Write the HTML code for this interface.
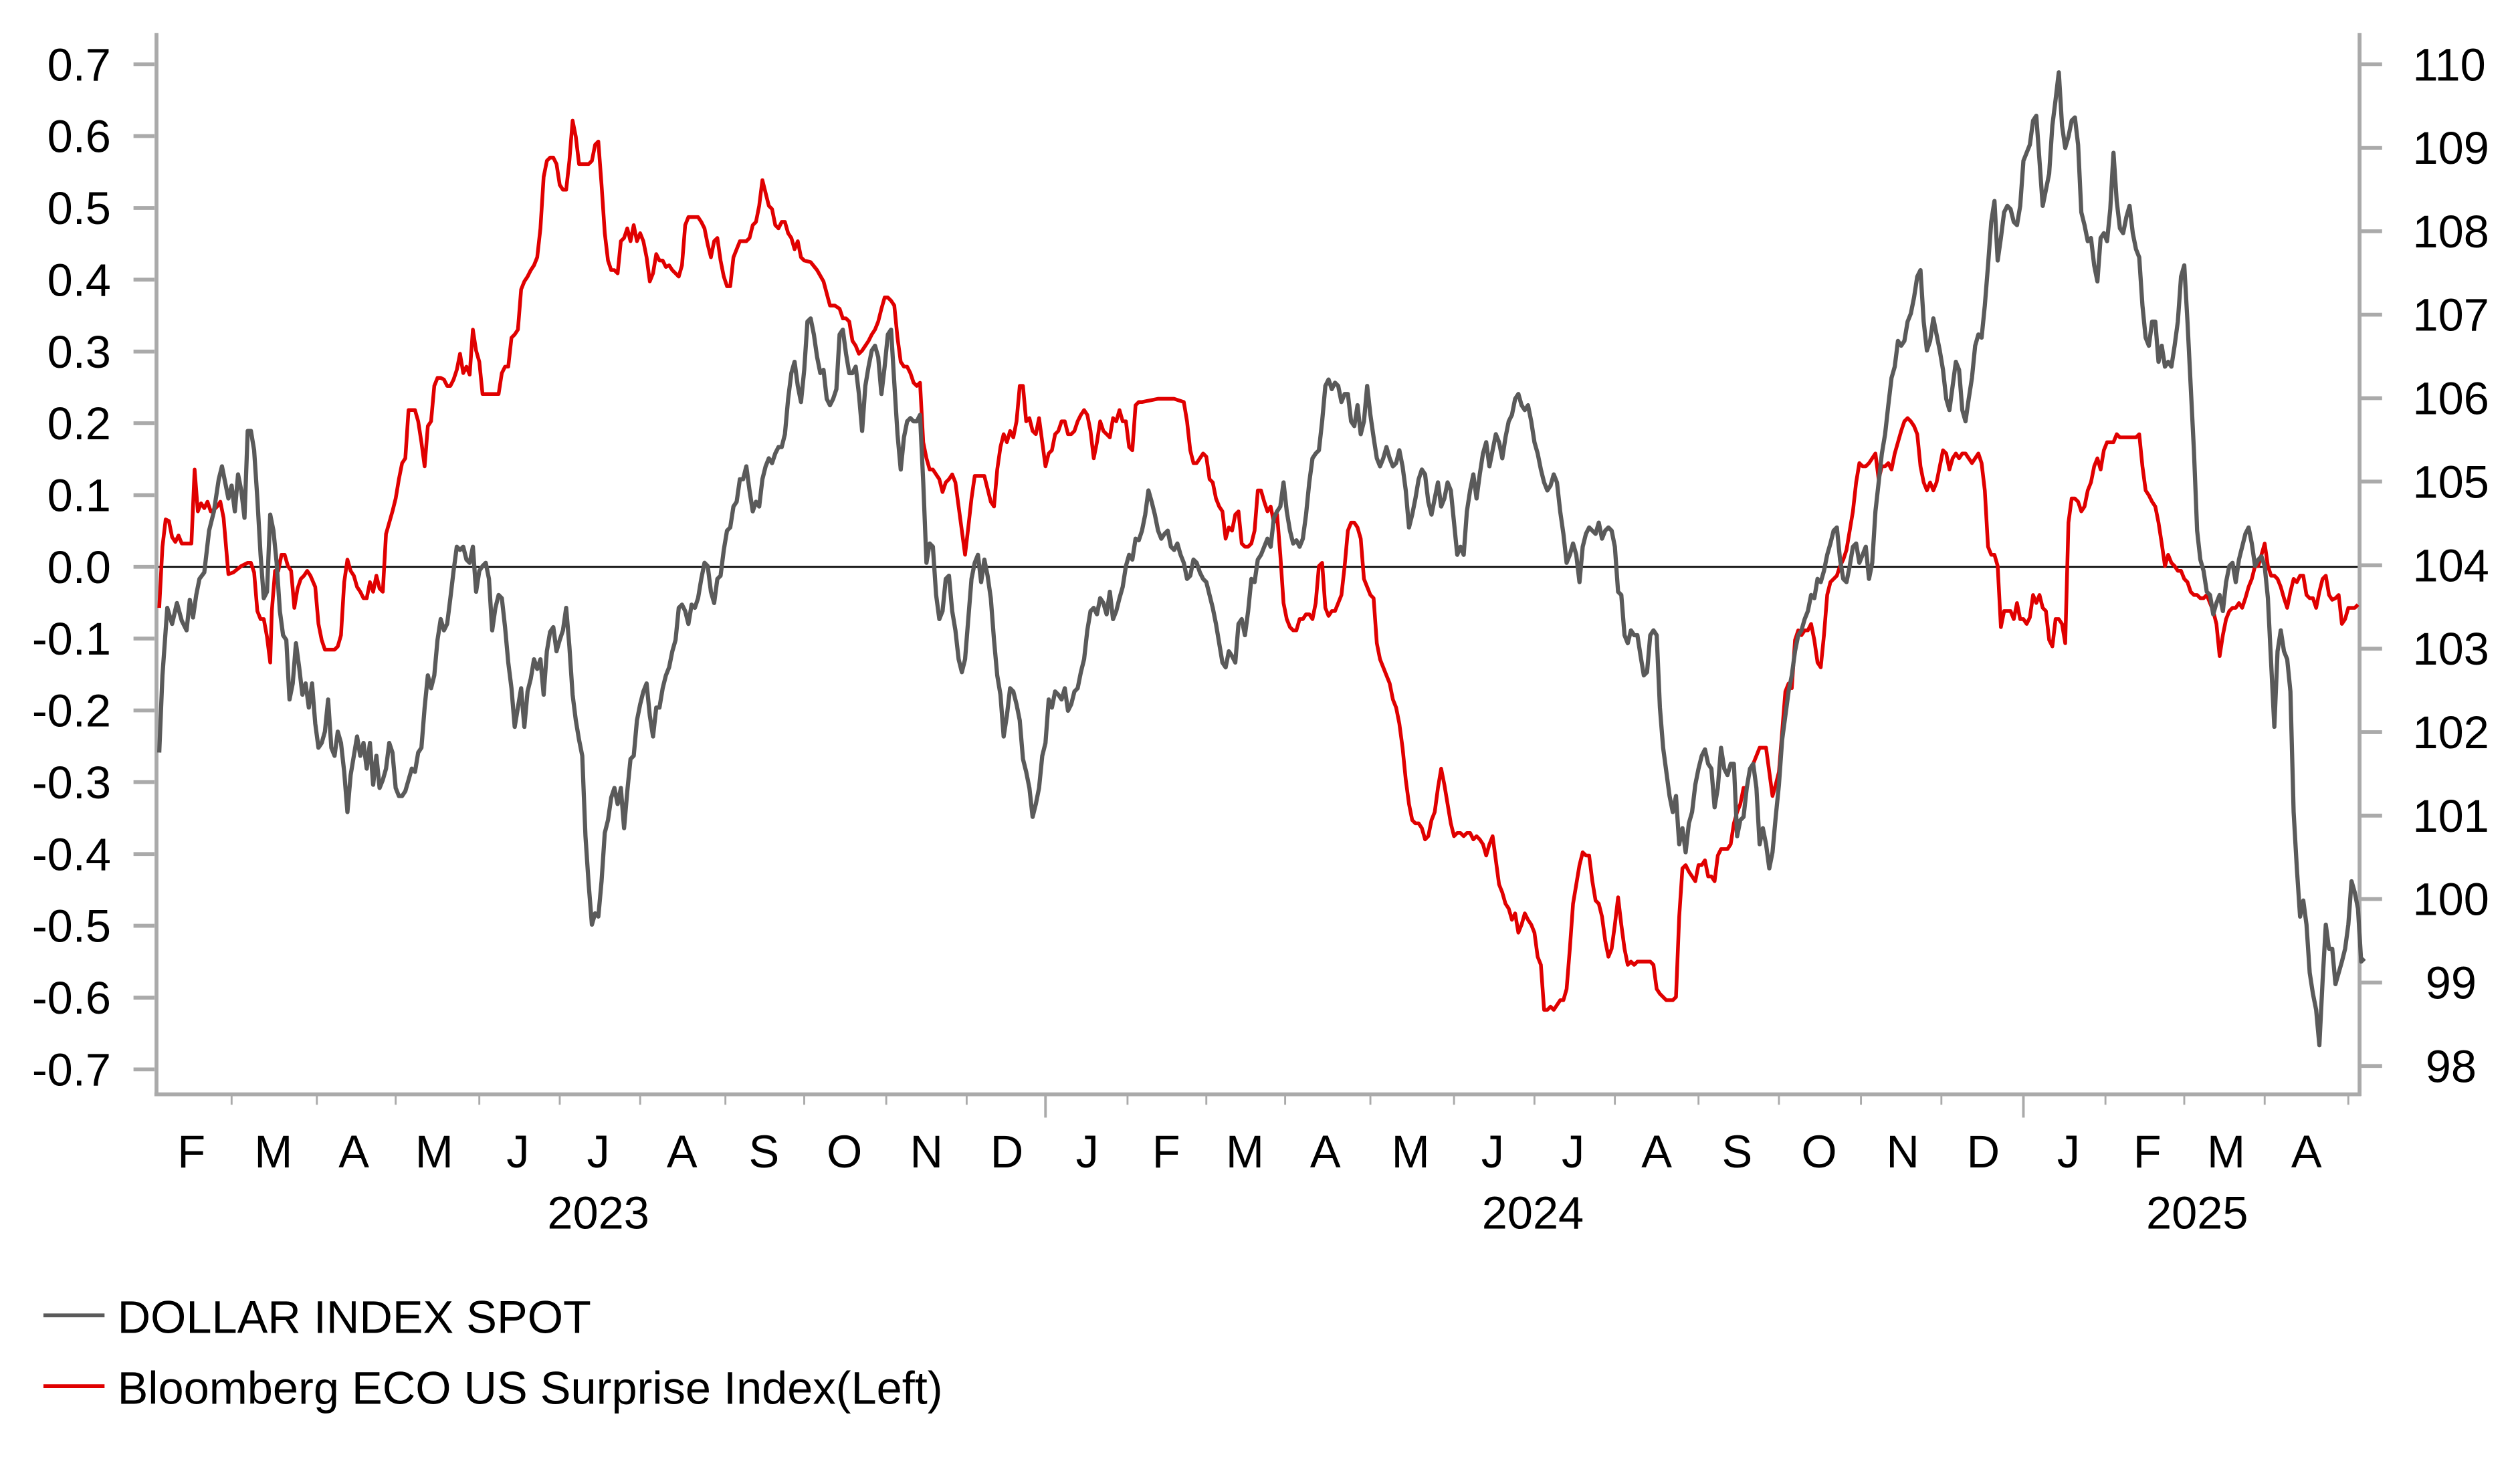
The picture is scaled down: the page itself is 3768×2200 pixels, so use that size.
<!DOCTYPE html>
<html><head><meta charset="utf-8"><style>html,body{margin:0;padding:0;background:#fff}svg{display:block}</style></head>
<body>
<svg width="3768" height="2200" viewBox="0 0 3768 2200" xmlns="http://www.w3.org/2000/svg">
<rect width="3768" height="2200" fill="#fff"/>
<g transform="scale(2.405)" font-family="Liberation Sans, Arial, sans-serif" fill="#000">
<line x1="97.3" y1="352.5" x2="1467" y2="352.5" stroke="#000" stroke-width="1.1"/>
<g stroke="#aaa" stroke-width="2.4" fill="none">
<line x1="97.3" y1="20.5" x2="97.3" y2="681.5"/>
<line x1="1467" y1="20.5" x2="1467" y2="681.5"/>
<line x1="96" y1="680.5" x2="1468" y2="680.5"/>
</g>
<g stroke="#aaa" stroke-width="2.4">
<line x1="83" y1="40" x2="96" y2="40"/><line x1="83" y1="84.6" x2="96" y2="84.6"/><line x1="83" y1="129.3" x2="96" y2="129.3"/><line x1="83" y1="173.9" x2="96" y2="173.9"/><line x1="83" y1="218.6" x2="96" y2="218.6"/><line x1="83" y1="263.2" x2="96" y2="263.2"/><line x1="83" y1="307.9" x2="96" y2="307.9"/><line x1="83" y1="352.5" x2="96" y2="352.5"/><line x1="83" y1="397.1" x2="96" y2="397.1"/><line x1="83" y1="441.8" x2="96" y2="441.8"/><line x1="83" y1="486.4" x2="96" y2="486.4"/><line x1="83" y1="531.1" x2="96" y2="531.1"/><line x1="83" y1="575.7" x2="96" y2="575.7"/><line x1="83" y1="620.4" x2="96" y2="620.4"/><line x1="83" y1="665" x2="96" y2="665"/>
<line x1="1468" y1="40" x2="1481" y2="40"/><line x1="1468" y1="91.9" x2="1481" y2="91.9"/><line x1="1468" y1="143.8" x2="1481" y2="143.8"/><line x1="1468" y1="195.7" x2="1481" y2="195.7"/><line x1="1468" y1="247.6" x2="1481" y2="247.6"/><line x1="1468" y1="299.5" x2="1481" y2="299.5"/><line x1="1468" y1="351.5" x2="1481" y2="351.5"/><line x1="1468" y1="403.4" x2="1481" y2="403.4"/><line x1="1468" y1="455.3" x2="1481" y2="455.3"/><line x1="1468" y1="507.2" x2="1481" y2="507.2"/><line x1="1468" y1="559.1" x2="1481" y2="559.1"/><line x1="1468" y1="611" x2="1481" y2="611"/><line x1="1468" y1="662.9" x2="1481" y2="662.9"/>
</g>
<g stroke="#aaa" stroke-width="1.2">
<line x1="144" y1="681" x2="144" y2="687"/><line x1="197" y1="681" x2="197" y2="687"/><line x1="246" y1="681" x2="246" y2="687"/><line x1="298" y1="681" x2="298" y2="687"/><line x1="348" y1="681" x2="348" y2="687"/><line x1="398" y1="681" x2="398" y2="687"/><line x1="451" y1="681" x2="451" y2="687"/><line x1="500" y1="681" x2="500" y2="687"/><line x1="551" y1="681" x2="551" y2="687"/><line x1="601" y1="681" x2="601" y2="687"/><line x1="650" y1="681" x2="650" y2="695" stroke-width="1.6"/><line x1="701" y1="681" x2="701" y2="687"/><line x1="750" y1="681" x2="750" y2="687"/><line x1="799" y1="681" x2="799" y2="687"/><line x1="852" y1="681" x2="852" y2="687"/><line x1="904" y1="681" x2="904" y2="687"/><line x1="954" y1="681" x2="954" y2="687"/><line x1="1004" y1="681" x2="1004" y2="687"/><line x1="1056" y1="681" x2="1056" y2="687"/><line x1="1106" y1="681" x2="1106" y2="687"/><line x1="1157" y1="681" x2="1157" y2="687"/><line x1="1207" y1="681" x2="1207" y2="687"/><line x1="1258" y1="681" x2="1258" y2="695" stroke-width="1.6"/><line x1="1309" y1="681" x2="1309" y2="687"/><line x1="1358" y1="681" x2="1358" y2="687"/><line x1="1408" y1="681" x2="1408" y2="687"/><line x1="1460" y1="681" x2="1460" y2="687"/>
</g>
<g font-size="28.5" text-anchor="end">
<text x="69" y="50">0.7</text><text x="69" y="94.6">0.6</text><text x="69" y="139.3">0.5</text><text x="69" y="183.9">0.4</text><text x="69" y="228.6">0.3</text><text x="69" y="273.2">0.2</text><text x="69" y="317.9">0.1</text><text x="69" y="362.5">0.0</text><text x="69" y="407.1">-0.1</text><text x="69" y="451.8">-0.2</text><text x="69" y="496.4">-0.3</text><text x="69" y="541.1">-0.4</text><text x="69" y="585.7">-0.5</text><text x="69" y="630.4">-0.6</text><text x="69" y="675">-0.7</text>
</g>
<g font-size="28.5">
<text x="1500" y="50">110</text><text x="1500" y="101.9">109</text><text x="1500" y="153.8">108</text><text x="1500" y="205.7">107</text><text x="1500" y="257.6">106</text><text x="1500" y="309.5">105</text><text x="1500" y="361.5">104</text><text x="1500" y="413.4">103</text><text x="1500" y="465.3">102</text><text x="1500" y="517.2">101</text><text x="1500" y="569.1">100</text><text x="1508" y="621">99</text><text x="1508" y="672.9">98</text>
</g>
<g font-size="28.5" text-anchor="middle">
<text x="119" y="726">F</text><text x="170" y="726">M</text><text x="220" y="726">A</text><text x="270" y="726">M</text><text x="322" y="726">J</text><text x="372" y="726">J</text><text x="424" y="726">A</text><text x="475" y="726">S</text><text x="525" y="726">O</text><text x="576" y="726">N</text><text x="626" y="726">D</text><text x="676" y="726">J</text><text x="725" y="726">F</text><text x="774" y="726">M</text><text x="824" y="726">A</text><text x="877" y="726">M</text><text x="928" y="726">J</text><text x="978" y="726">J</text><text x="1030" y="726">A</text><text x="1080" y="726">S</text><text x="1131" y="726">O</text><text x="1183" y="726">N</text><text x="1233" y="726">D</text><text x="1286" y="726">J</text><text x="1335" y="726">F</text><text x="1384" y="726">M</text><text x="1434" y="726">A</text>
<text x="372" y="764">2023</text><text x="953" y="764">2024</text><text x="1366" y="764">2025</text>
</g>
<line x1="27" y1="818" x2="65" y2="818" stroke="#5a5a5a" stroke-width="2.4"/>
<line x1="27" y1="862" x2="65" y2="862" stroke="#e00000" stroke-width="2.4"/>
<g font-size="28.5"><text x="73" y="829">DOLLAR INDEX SPOT</text><text x="73" y="873">Bloomberg ECO US Surprise Index(Left)</text></g>
<polyline fill="none" stroke="#e00000" stroke-width="2.3" stroke-linejoin="round" points="99,378 101,340 103,323 105,324 107,334 109,337 111,333 113,338 117,338 119,338 121,292 123,318 125,313 127,316 129,312 131,318 133,317 135,315 137,312 139,322 142,357 145,356 150,352 154,350 156,350 158,356 160,380 162,385 164,385 166,396 168,412 169,380 171,355 173,355 175,345 177,345 179,352 181,355 183,378 185,366 187,360 189,358 191,355 193,358 196,365 198,388 200,398 202,404 208,404 210,402 212,395 214,362 216,348 218,355 220,358 222,365 224,368 226,372 228,372 230,362 232,368 234,358 236,366 238,368 240,332 242,325 244,318 246,310 248,298 250,288 252,285 254,255 256,255 258,255 260,262 262,275 264,290 266,265 268,262 270,240 272,235 274,235 276,236 278,240 280,240 282,236 284,230 286,220 288,232 290,228 292,233 294,205 296,218 298,225 300,245 302,245 304,245 306,245 308,245 310,245 312,232 314,228 316,228 318,210 320,208 322,205 324,180 326,175 328,172 330,168 332,165 334,160 336,142 338,110 340,100 342,98 344,98 346,102 348,115 350,118 352,118 354,100 356,75 358,85 360,102 362,102 364,102 366,102 368,100 370,90 372,88 374,115 376,145 378,162 380,168 382,168 384,170 386,150 388,148 390,142 392,150 394,140 396,150 398,145 400,150 402,160 404,175 406,170 408,158 410,162 412,162 414,166 416,165 418,168 420,170 422,172 424,165 426,140 428,135 430,135 432,135 434,135 436,138 438,142 440,152 442,160 444,150 446,148 448,162 450,172 452,178 454,178 456,160 458,155 460,150 462,150 464,150 466,148 468,140 470,138 472,128 474,112 476,120 478,128 480,130 482,140 484,142 486,138 488,138 490,145 492,148 494,155 496,150 498,160 500,162 504,163 508,168 512,175 516,190 519,190 522,192 524,198 526,198 528,200 530,212 532,215 534,220 536,218 538,215 540,212 542,208 544,205 546,200 548,192 550,185 552,185 554,187 556,190 558,210 560,225 562,228 564,228 566,232 568,238 570,240 572,238 574,275 576,285 578,292 580,292 582,295 584,298 586,306 588,300 590,298 592,295 594,300 596,315 598,330 600,345 602,328 604,310 606,296 608,296 610,296 612,296 614,304 616,312 618,315 620,292 622,278 624,270 626,275 628,268 630,272 632,262 634,240 636,240 638,262 640,260 642,268 644,270 646,260 648,275 650,290 652,282 654,280 656,270 658,268 660,262 662,262 664,270 666,270 668,268 670,262 672,258 674,255 676,258 678,268 680,285 682,275 684,262 686,268 688,270 690,272 692,260 694,262 696,255 698,262 700,262 702,278 704,280 706,252 708,250 710,250 720,248 730,248 736,250 738,262 740,280 742,288 744,288 746,285 748,282 750,284 752,298 754,300 756,310 758,315 760,318 762,335 764,328 766,330 768,320 770,318 772,338 774,340 776,340 778,338 780,330 782,305 784,305 786,312 788,318 790,315 792,325 794,320 796,345 798,375 800,385 802,390 804,392 806,392 808,385 810,385 812,382 814,382 816,385 818,375 820,352 822,350 824,378 826,383 828,380 830,380 832,375 834,370 836,352 838,330 840,325 842,325 844,328 846,335 848,360 850,365 852,370 854,372 856,400 858,410 860,415 862,420 864,425 866,435 868,440 870,450 872,465 874,485 876,500 878,510 880,512 882,512 884,515 886,522 888,520 890,510 892,505 894,490 896,478 898,488 900,500 902,512 904,520 906,518 908,518 910,520 912,518 914,518 916,522 918,520 920,522 922,525 924,532 926,525 928,520 930,535 932,550 934,555 936,562 938,565 940,572 942,568 944,580 946,575 948,568 950,572 952,575 954,580 956,595 958,600 960,628 962,628 964,626 966,628 968,625 970,622 972,622 974,615 976,590 978,562 980,550 982,538 984,530 986,532 988,532 990,548 992,560 994,562 996,570 998,585 1000,595 1002,590 1004,575 1006,558 1008,575 1010,590 1012,600 1014,598 1016,600 1018,598 1022,598 1026,598 1028,600 1030,615 1032,618 1036,622 1040,622 1042,620 1044,570 1046,540 1048,538 1050,542 1052,545 1054,548 1056,538 1058,538 1060,535 1062,545 1064,545 1066,548 1068,532 1070,528 1072,528 1074,528 1076,525 1078,512 1080,505 1082,500 1084,490 1086,490 1088,478 1090,475 1092,470 1094,465 1096,465 1098,465 1100,480 1102,495 1104,488 1106,480 1108,455 1110,430 1112,425 1114,428 1116,398 1118,392 1120,395 1122,392 1124,392 1126,388 1128,398 1130,412 1132,415 1134,395 1136,370 1138,362 1140,360 1142,358 1144,352 1146,348 1148,342 1150,330 1152,318 1154,300 1156,288 1158,290 1160,290 1162,288 1164,285 1166,282 1168,298 1170,290 1172,290 1174,288 1176,292 1178,282 1180,275 1182,268 1184,262 1186,260 1188,262 1190,265 1192,270 1194,290 1196,300 1198,305 1200,300 1202,305 1204,300 1206,290 1208,280 1210,282 1212,292 1214,285 1216,282 1218,285 1220,282 1222,282 1224,285 1226,288 1228,285 1230,282 1232,288 1234,305 1236,340 1238,345 1240,345 1242,352 1244,390 1246,380 1248,380 1250,380 1252,385 1254,375 1256,385 1258,385 1260,388 1262,384 1264,370 1266,375 1268,370 1270,378 1272,380 1274,398 1276,402 1278,385 1280,385 1282,388 1284,400 1286,325 1288,310 1290,310 1292,312 1294,318 1296,315 1298,305 1300,300 1302,290 1304,285 1306,292 1308,280 1310,275 1312,275 1314,275 1316,270 1318,272 1322,272 1328,272 1330,270 1332,290 1334,305 1336,308 1338,312 1340,315 1342,325 1344,338 1346,352 1348,345 1350,350 1352,352 1354,355 1356,355 1358,360 1360,362 1362,368 1364,370 1366,370 1368,372 1370,372 1372,370 1374,375 1376,380 1378,388 1380,408 1382,395 1384,385 1386,380 1388,378 1390,378 1392,375 1394,378 1396,372 1398,365 1400,360 1402,352 1404,352 1406,345 1408,338 1410,352 1412,358 1414,358 1416,360 1418,365 1420,372 1422,378 1424,368 1426,360 1428,362 1430,358 1432,358 1434,370 1436,372 1438,372 1440,378 1442,368 1444,360 1446,358 1448,370 1450,373 1452,372 1454,370 1456,388 1458,385 1460,378 1462,378 1464,378 1466,376"/>
<polyline fill="none" stroke="#5a5a5a" stroke-width="2.6" stroke-linejoin="round" points="99,468 101,420 104,378 107,388 110,375 113,386 116,392 118,373 120,384 122,370 124,360 127,356 130,330 133,318 136,298 138,290 140,300 142,310 144,302 146,318 148,295 150,305 152,322 154,268 156,268 158,280 160,310 162,345 164,372 166,368 168,320 170,330 172,350 174,380 176,395 178,398 180,435 182,425 184,400 186,415 188,432 190,425 192,440 194,425 196,450 198,465 200,462 202,455 204,435 206,465 208,470 210,455 212,462 214,480 216,505 218,482 220,470 222,458 224,470 226,462 228,478 230,462 232,488 234,470 236,490 238,485 240,478 242,462 244,468 246,490 248,495 250,495 252,492 254,485 256,478 258,480 260,468 262,465 264,440 266,420 268,428 270,420 272,398 274,385 276,392 278,388 280,372 282,355 284,340 286,342 288,340 290,348 292,350 294,340 296,368 298,355 300,352 302,350 304,360 306,392 308,378 310,370 312,372 314,390 316,412 318,428 320,452 322,440 324,428 326,452 328,430 330,422 332,410 334,416 336,410 338,432 340,405 342,393 344,390 346,405 348,398 350,392 352,378 354,402 356,432 358,448 360,460 362,470 364,520 366,550 368,575 370,568 372,570 374,548 376,518 378,510 380,496 382,490 384,500 386,490 388,515 390,492 392,472 394,470 396,448 398,438 400,430 402,425 404,445 406,458 408,440 410,440 412,428 414,420 416,415 418,405 420,398 422,378 424,376 426,380 428,388 430,376 432,378 434,372 436,360 438,350 440,352 442,368 444,375 446,360 448,358 450,342 452,330 454,328 456,315 458,312 460,298 462,298 464,290 466,305 468,318 470,312 472,315 474,298 476,290 478,285 480,288 482,282 484,278 486,278 488,270 490,248 492,232 494,225 496,240 498,250 500,230 502,200 504,198 506,208 508,222 510,232 512,230 514,248 516,252 518,248 520,242 522,208 524,205 526,220 528,232 530,232 532,228 534,245 536,268 538,240 540,228 542,218 544,215 546,222 548,245 550,228 552,208 554,205 556,238 558,270 560,292 562,272 564,262 566,260 568,262 570,262 572,258 574,300 576,350 578,338 580,340 582,370 584,385 586,380 588,360 590,358 592,380 594,392 596,410 598,418 600,410 602,385 604,360 606,350 608,345 610,362 612,348 614,358 616,372 618,398 620,420 622,432 624,458 626,445 628,428 630,430 632,438 634,448 636,472 638,480 640,490 642,508 644,500 646,490 648,470 650,462 652,435 654,440 656,430 658,432 660,435 662,428 664,442 666,438 668,430 670,428 672,418 674,410 676,392 678,380 680,378 682,382 684,372 686,375 688,382 690,368 692,385 694,380 696,372 698,365 700,352 702,345 704,348 706,335 708,336 710,330 712,320 714,305 716,312 718,320 720,330 722,335 724,332 726,330 728,340 730,342 732,338 734,345 736,350 738,360 740,358 742,348 744,350 746,356 748,360 750,362 752,370 754,378 756,388 758,400 760,412 762,415 764,405 766,408 768,412 770,388 772,385 774,395 776,380 778,360 780,362 782,348 784,345 786,340 788,335 790,340 792,322 794,318 796,315 798,300 800,318 802,330 804,338 806,336 808,340 810,335 812,320 814,300 816,285 818,282 820,280 822,262 824,240 826,236 828,242 830,238 832,240 834,250 836,245 838,245 840,262 842,265 844,252 846,270 848,262 850,240 852,258 854,272 856,285 858,290 860,285 862,278 864,285 866,290 868,288 870,280 872,290 874,305 876,328 878,320 880,310 882,298 884,292 886,295 888,312 890,320 892,310 894,300 896,315 898,310 900,300 902,305 904,325 906,345 908,340 910,345 912,318 914,305 916,295 918,310 920,295 922,282 924,275 926,290 928,280 930,270 932,275 934,285 936,272 938,262 940,258 942,248 944,245 946,252 948,255 950,252 952,262 954,275 956,282 958,292 960,300 962,305 964,302 966,295 968,300 970,318 972,332 974,350 976,345 978,338 980,345 982,362 984,340 986,332 988,328 990,330 992,332 994,325 996,335 998,330 1000,328 1002,330 1004,340 1006,368 1008,370 1010,395 1012,400 1014,392 1016,395 1018,395 1020,408 1022,420 1024,418 1026,395 1028,392 1030,395 1032,440 1034,465 1036,480 1038,495 1040,505 1042,495 1044,525 1046,515 1048,530 1050,512 1052,505 1054,488 1056,478 1058,470 1060,466 1062,475 1064,478 1066,502 1068,490 1070,465 1072,478 1074,482 1076,475 1078,475 1080,520 1082,510 1084,508 1086,490 1088,478 1090,475 1092,490 1094,525 1096,515 1098,525 1100,540 1102,530 1104,508 1106,488 1108,460 1110,445 1112,430 1114,420 1116,405 1118,395 1120,392 1122,385 1124,380 1126,370 1128,372 1130,360 1132,362 1134,355 1136,345 1138,338 1140,330 1142,328 1144,348 1146,360 1148,362 1150,352 1152,340 1154,338 1156,350 1158,345 1160,340 1162,360 1164,350 1166,318 1168,300 1170,282 1172,270 1174,252 1176,235 1178,228 1180,212 1182,215 1184,212 1186,200 1188,195 1190,185 1192,172 1194,168 1196,200 1198,218 1200,212 1202,198 1204,208 1206,218 1208,230 1210,248 1212,255 1214,240 1216,225 1218,230 1220,255 1222,262 1224,248 1226,235 1228,215 1230,208 1232,210 1234,190 1236,165 1238,138 1240,125 1242,162 1244,148 1246,132 1248,128 1250,130 1252,138 1254,140 1256,128 1258,100 1260,95 1262,90 1264,75 1266,72 1268,100 1270,128 1272,118 1274,108 1276,78 1278,62 1280,45 1282,78 1284,92 1286,85 1288,75 1290,73 1292,90 1294,132 1296,140 1298,150 1300,148 1302,165 1304,175 1306,148 1308,145 1310,150 1312,130 1314,95 1316,125 1318,142 1320,145 1322,135 1324,128 1326,145 1328,155 1330,160 1332,190 1334,210 1336,215 1338,200 1340,200 1342,225 1344,215 1346,228 1348,225 1350,228 1352,215 1354,200 1356,172 1358,165 1360,200 1362,240 1364,280 1366,330 1368,348 1370,355 1372,368 1374,370 1376,382 1378,375 1380,370 1382,380 1384,362 1386,352 1388,350 1390,362 1392,348 1394,340 1396,332 1398,328 1400,338 1402,352 1404,348 1406,346 1408,352 1410,372 1412,412 1414,452 1416,405 1418,392 1420,405 1422,410 1424,430 1426,505 1428,540 1430,570 1432,560 1434,575 1436,605 1438,618 1440,628 1442,650 1444,610 1446,575 1448,590 1450,590 1452,612 1454,605 1456,598 1458,590 1460,575 1462,548 1464,555 1466,565 1468,598 1470,596"/>
</g>
</svg>
</body></html>
